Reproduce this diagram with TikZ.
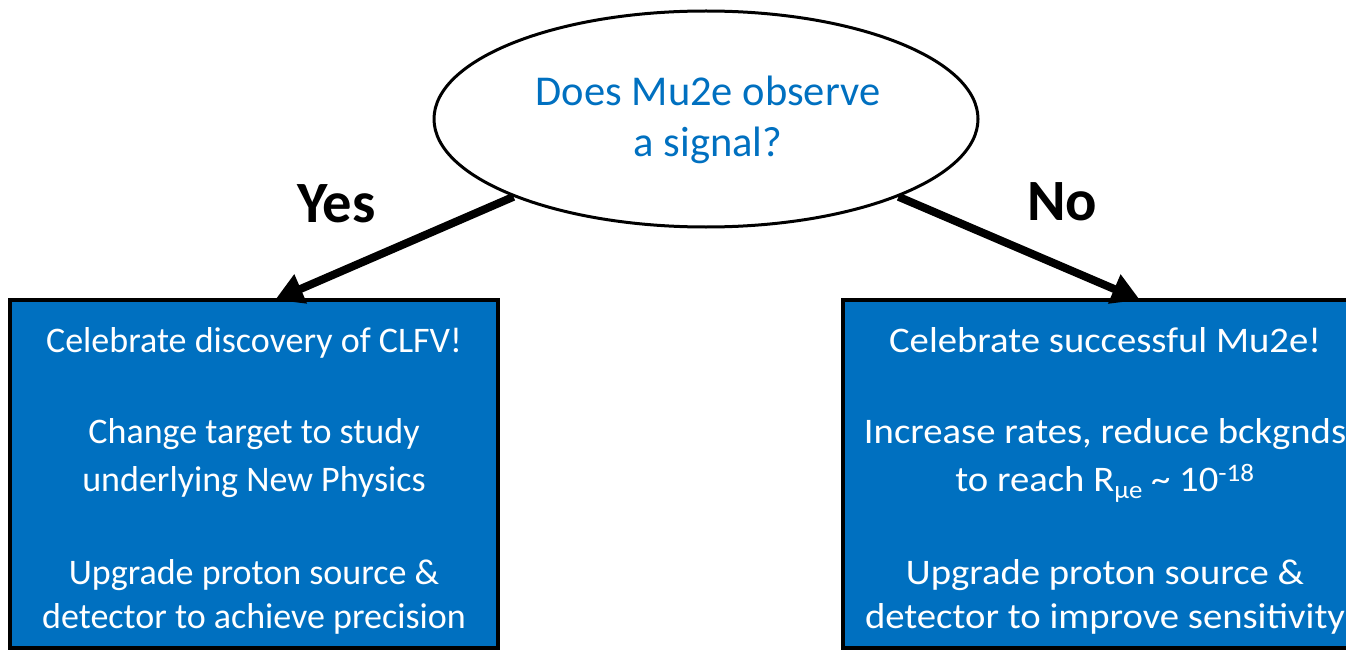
\documentclass[tikz,border=0pt]{standalone}
\usepackage{fontspec}
\setmainfont{Carlito}
\usetikzlibrary{shapes.geometric,arrows.meta}
\definecolor{offblue}{RGB}{0,112,192}
\newcommand{\lowsub}[1]{\raisebox{-7pt}{\fontsize{25}{25}\selectfont #1}}
\tikzset{
  answerbox/.style={draw=black, line width=4pt, fill=offblue, rectangle, inner sep=0pt},
  boxtext/.style={anchor=base, text=white, font=\fontsize{36}{44}\selectfont, inner sep=0pt},
  widetext/.style={boxtext, xscale=1.075, transform shape},
  question/.style={draw=black, line width=3pt, ellipse, fill=white, inner sep=0pt},
  qtext/.style={anchor=base, text=offblue, font=\fontsize{42.5}{50}\selectfont, inner sep=0pt},
  answerlabel/.style={anchor=base west, font=\fontsize{58.5}{64}\selectfont\bfseries, inner sep=0pt},
  decision/.style={line width=8pt, -{Triangle[length=28pt,width=30pt]}}
}
\begin{document}
\begin{tikzpicture}[x=1pt,y=-1pt]
\useasboundingbox (0,0) rectangle (1346,650);
\clip (0,0) rectangle (1346,650);
% question
\node[question, minimum width=544pt, minimum height=216pt] (q) at (706,119) {};
\node[qtext] (qt1) at (708,106) {Does Mu2e observe};
\node[qtext] (qt2) at (708,157) {a signal?};
% boxes
\node[answerbox, minimum width=488pt, minimum height=348pt] (yesbox) at (254,474) {};
\node[answerbox, minimum width=524pt, minimum height=348pt] (nobox) at (1105,474) {};
% yes box text
\node[boxtext] (y1) at (254,352) {Celebrate discovery of CLFV!};
\node[boxtext] (y2) at (254,443) {Change target to study};
\node[boxtext] (y3) at (254,491) {underlying New Physics};
\node[boxtext] (y4) at (254,584) {Upgrade proton source \&};
\node[boxtext] (y5) at (254,628) {detector to achieve precision};
% no box text
\node[widetext] (n1) at (1105,352) {Celebrate successful Mu2e!};
\node[widetext] (n2) at (1105,443) {Increase rates, reduce bckgnds};
\node[widetext] (n3) at (1105,491) {to reach R\lowsub{μe} \textasciitilde{} 10\textsuperscript{-18}};
\node[widetext] (n4) at (1105,584) {Upgrade proton source \&};
\node[widetext] (n5) at (1105,628) {detector to improve sensitivity};
% labels
\node[answerlabel] (yes) at (297,222) {Yes};
\node[answerlabel] (no) at (1027,220) {No};
% connectors
\coordinate (yestip) at (275,300);
\coordinate (notip) at (1140,300);
\draw[decision] (q.202) -- (yestip);
\draw[decision] (q.338.5) -- (notip);
\end{tikzpicture}
\end{document}
